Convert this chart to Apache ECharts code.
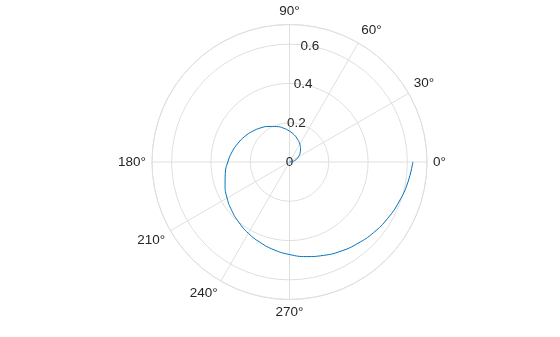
<!DOCTYPE html>
<html>
<head>
<meta charset="utf-8">
<script src="https://cdn.jsdelivr.net/npm/echarts@6/dist/echarts.min.js"></script>
<style>
html,body{margin:0;padding:0;background:#fff;}
#chart{width:560px;height:337px;}
</style>
</head>
<body>
<div id="chart"></div>
<script>
// Spiral: angle (degrees) and radius
var angles = [0,10,20,30,40,50,60,70,80,90,100,110,120,130,140,150,160,170,180,
  190,200,210,220,230,240,250,260,270,280,290,300,310,320,330,340,350,360];
var radii = [0,0.017,0.035,0.052,0.070,0.087,0.105,0.122,0.140,0.157,0.175,0.192,0.209,0.227,0.244,0.262,0.279,0.297,0.314,
  0.332,0.349,0.367,0.384,0.401,0.419,0.436,0.454,0.471,0.489,0.506,0.524,0.541,0.559,0.576,0.593,0.611,0.628];
// Angular tick labels (12 positions, some not shown in the reference)
var angleTicks = ['0°','30°','60°','90°','120°','150°','180°','210°','240°','270°','300°','330°'];
var angleShown = [true,true,true,true,false,false,true,true,true,true,false,false];
var rMin = 0, rMax = 0.7, rStep = 0.2;

var chart = echarts.init(document.getElementById('chart'), null, {renderer:'canvas'});
var C = [289.5, 162], R = 137.5;
var gridColor = '#dfdfdf';
var textColor = '#262626';
var font = 'Liberation Sans, Arial, Helvetica, sans-serif';
var fs = 13.5;

var seriesData = angles.map(function(a, i){ return [radii[i], a]; });

chart.setOption({
  animation: false,
  polar: [
    {center: C, radius: R},
    {center: C, radius: R},
    {center: C, radius: R}
  ],
  angleAxis: [
    {
      polarIndex: 0, type: 'category', data: angleTicks, boundaryGap: false,
      startAngle: 0, clockwise: false,
      axisLine: {show: false},
      axisTick: {show: false},
      axisLabel: {
        show: true, margin: 6, color: textColor, fontFamily: font, fontSize: fs,
        interval: function(idx){ return angleShown[idx]; }
      },
      splitLine: {
        show: true, lineStyle: {color: gridColor, width: 1},
        interval: function(idx){ return angleShown[idx]; }
      }
    },
    {
      polarIndex: 1, type: 'value', min: 0, max: 360, startAngle: 80, clockwise: false,
      axisLine: {show: true, lineStyle: {color: gridColor, width: 1}},
      axisTick: {show: false}, axisLabel: {show: false}, splitLine: {show: false}
    },
    {
      polarIndex: 2, type: 'value', min: 0, max: 360, startAngle: 0, clockwise: false,
      axisLine: {show: false}, axisTick: {show: false}, axisLabel: {show: false}, splitLine: {show: false}
    }
  ],
  radiusAxis: [
    {
      polarIndex: 0, type: 'value', min: rMin, max: rMax, interval: rStep,
      axisLine: {show: false}, axisTick: {show: false}, axisLabel: {show: false},
      splitLine: {show: false}
    },
    {
      polarIndex: 1, type: 'value', min: rMin, max: rMax, interval: rStep,
      axisLine: {show: false}, axisTick: {show: false},
      axisLabel: {
        show: true, margin: 0, align: 'center', verticalAlign: 'middle', rotate: 0,
        color: textColor, fontFamily: font, fontSize: fs, showMaxLabel: false,
        formatter: function(v){ return Math.abs(v - rMax) < 1e-9 ? '' : String(+v.toFixed(1)); }
      },
      splitLine: {show: true, lineStyle: {color: gridColor, width: 1}}
    },
    {
      polarIndex: 2, type: 'value', min: rMin, max: rMax,
      axisLine: {show: false}, axisTick: {show: false}, axisLabel: {show: false}, splitLine: {show: false}
    }
  ],
  series: [{
    type: 'line', coordinateSystem: 'polar', polarIndex: 2,
    data: seriesData, showSymbol: false, smooth: true,
    lineStyle: {color: '#0072BD', width: 1},
    z: 5
  }]
});
</script>
</body>
</html>
